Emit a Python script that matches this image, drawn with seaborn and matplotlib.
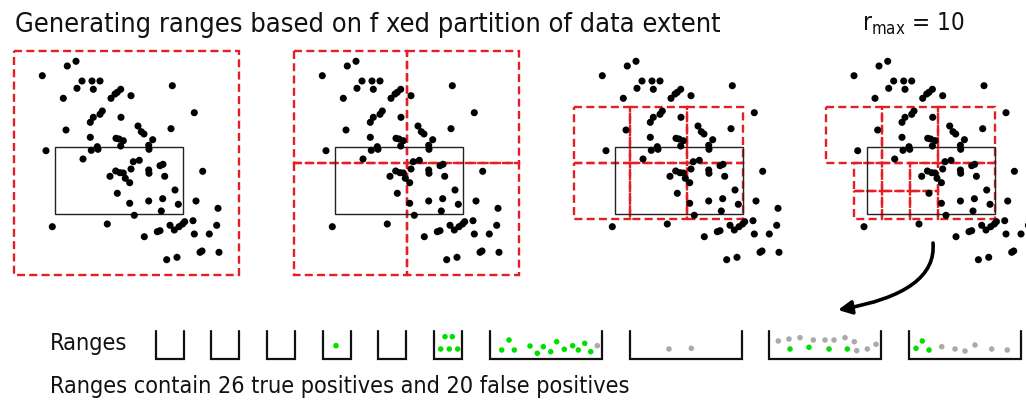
import numpy as np
import pandas as pd
import matplotlib
matplotlib.use("Agg")
import matplotlib.pyplot as plt
import seaborn as sns
from matplotlib.patches import Rectangle, FancyArrowPatch

# ---------------- data ----------------
# scattered data points (pixel-frame of the first panel, y downward)
pt_x = [42.3, 67.3, 76.0, 82.0, 92.0, 100.0, 77.0, 93.3, 63.3, 111.0, 115.0, 117.3,
        120.7, 131.0, 172.3, 194.3, 100.0, 102.3, 93.3, 90.3, 121.0, 66.0, 138.0,
        141.3, 144.0, 171.0, 90.3, 116.0, 119.0, 123.3, 120.7, 152.7, 148.7, 149.0,
        46.0, 91.3, 97.3, 98.0, 83.0, 133.3, 139.3, 160.0, 163.0, 131.0, 115.7,
        110.0, 120.0, 123.3, 125.3, 129.7, 148.7, 149.0, 164.7, 202.7, 175.0, 117.3,
        129.7, 148.7, 162.7, 178.3, 196.0, 161.3, 134.3, 218.0, 52.3, 107.3, 170.0,
        174.3, 179.0, 182.7, 184.7, 193.0, 157.3, 160.0, 144.3, 194.3, 209.3, 216.7,
        200.0, 202.0, 219.0, 166.7, 177.0]
pt_y = [75.7, 66.0, 61.3, 81.0, 81.0, 81.0, 88.3, 89.3, 98.3, 98.3, 94.0, 92.3,
        89.3, 95.7, 85.7, 112.7, 114.3, 111.0, 117.3, 122.3, 117.3, 130.0, 126.0,
        131.7, 134.0, 128.7, 137.3, 138.3, 139.0, 140.7, 146.0, 139.7, 145.3, 149.3,
        150.7, 150.3, 146.7, 149.3, 159.0, 161.7, 160.3, 165.7, 164.3, 169.0, 171.0,
        176.3, 172.7, 173.0, 178.3, 182.7, 170.0, 173.3, 176.3, 171.3, 190.0, 193.3,
        203.3, 201.0, 198.7, 204.3, 201.0, 211.0, 215.3, 208.3, 226.7, 224.0, 225.3,
        230.0, 226.7, 224.0, 221.7, 220.7, 231.7, 230.7, 236.7, 234.0, 234.0, 225.3,
        252.3, 251.0, 252.3, 259.7, 257.3]

extent_x = [14.0, 239.3]
extent_y = [50.7, 275.3]
query_x = [55.0, 183.3]
query_y = [147.3, 214.0]

# partition cells per panel, as fractions of the data extent (x0, x1, y0, y1)
cells_p1 = [(0, 1, 0, 1)]
cells_p2 = [(0, .5, 0, .5), (.5, 1, 0, .5), (0, .5, .5, 1), (.5, 1, .5, 1)]
cells_p3 = [(0, .25, .25, .5), (.25, .5, .25, .5), (.5, .75, .25, .5),
            (0, .25, .5, .75), (.25, .5, .5, .75), (.5, .75, .5, .75)]
cells_p4 = [(0, .25, .25, .5), (.25, .5, .25, .5), (.5, .75, .25, .5),
            (.125, .25, .5, .625), (.125, .25, .625, .75),
            (.25, .375, .5, .625), (.375, .5, .5, .625),
            (.25, .375, .625, .75), (.375, .5, .625, .75),
            (.5, .75, .5, .75)]

# ranges (buckets): relative size (area units) and their contents
range_units = [1, 1, 1, 1, 1, 1, 4, 4, 4, 4]
range_tp = [0, 0, 0, 1, 0, 5, 13, 0, 4, 3]
range_fp = [0, 0, 0, 0, 0, 0, 1, 2, 11, 6]
dot_x = [336.0,
         445.0, 452.3, 440.7, 449.3, 457.7,
         501.7, 509.0, 514.3, 530.0, 537.3, 543.3, 550.7, 556.7, 564.3, 572.7, 578.3, 584.7, 590.7, 597.3,
         669.0, 691.3,
         778.3, 789.0, 800.0, 813.3, 825.0, 834.0, 845.0, 854.3, 856.7, 867.3, 876.0,
         790.0, 809.0, 829.0, 847.3,
         922.3, 916.0, 929.0, 941.7, 955.0, 965.0, 975.0, 991.7, 1007.3]
dot_y = [345.7,
         336.7, 336.7, 349.0, 349.0, 349.0,
         350.0, 340.0, 350.0, 346.0, 353.3, 346.7, 351.7, 341.7, 349.3, 345.7, 350.0, 343.3, 351.7, 345.7,
         349.0, 348.3,
         341.0, 339.0, 337.7, 340.0, 340.0, 340.0, 337.7, 341.7, 350.7, 349.0, 344.3,
         349.0, 347.3, 349.0, 349.0,
         341.0, 348.3, 350.0, 346.7, 349.0, 351.0, 345.0, 349.0, 350.0]
dot_kind = (["TP"] * 1 + ["TP"] * 5 + ["TP"] * 13 + ["FP"] * 1 + ["FP"] * 2
            + ["FP"] * 11 + ["TP"] * 4 + ["TP"] * 3 + ["FP"] * 6)

title = "Generating ranges based on f xed partition of data extent"
footer = "Ranges contain 26 true positives and 20 false positives"

# ---------------- style ----------------
sns.set_theme(style="white")
plt.rcParams["font.family"] = ["DejaVu Sans"]
plt.rcParams["font.stretch"] = "condensed"
plt.rcParams["mathtext.fontset"] = "dejavusans"

RED = "#e31e24"
DASH = (0, (3.4, 1.8))

fig = plt.figure(figsize=(10.26, 4.03), dpi=100)
ax = fig.add_axes([0, 0, 1, 1])
ax.set_xlim(0, 1026)
ax.set_ylim(403, 0)
ax.axis("off")

panel_offsets = [0, 280, 560, 811.7]
panel_cells = [cells_p1, cells_p2, cells_p3, cells_p4]
ex0, ex1 = extent_x
ey0, ey1 = extent_y
W, H = ex1 - ex0, ey1 - ey0

frames = []
for off, cells in zip(panel_offsets, panel_cells):
    for (fx0, fx1, fy0, fy1) in cells:
        ax.add_patch(Rectangle((off + ex0 + fx0 * W, ey0 + fy0 * H), (fx1 - fx0) * W,
                               (fy1 - fy0) * H, fill=False, edgecolor=RED, lw=1.7,
                               linestyle=DASH, zorder=2))
    ax.add_patch(Rectangle((off + query_x[0], query_y[0]), query_x[1] - query_x[0],
                           query_y[1] - query_y[0], fill=False, edgecolor="#222222",
                           lw=1.0, zorder=2.5))
    frames.append(pd.DataFrame({"x": np.array(pt_x) + off, "y": pt_y}))
pts = pd.concat(frames, ignore_index=True)
sns.scatterplot(data=pts, x="x", y="y", color="black", s=26, edgecolor="none",
                ax=ax, legend=False, zorder=3)

# buckets
x = 155.7
unit_w, gap, btop, bbot = 28.0, 27.7, 331.0, 359.0
for u in range_units:
    w = unit_w * u
    ax.plot([x, x, x + w, x + w], [btop, bbot, bbot, btop], color="#111111",
            lw=1.6, solid_joinstyle="miter", zorder=2)
    x += w + gap

dots = pd.DataFrame({"x": dot_x, "y": dot_y, "kind": dot_kind})
sns.scatterplot(data=dots, x="x", y="y", hue="kind",
                palette={"TP": "#00e000", "FP": "#aaaaaa"}, s=16, edgecolor="none",
                ax=ax, legend=False, zorder=3)
ax.set_xlim(0, 1026)
ax.set_ylim(403, 0)
ax.set_xlabel("")
ax.set_ylabel("")

# arrow
arr = FancyArrowPatch((933, 243), (838, 310), connectionstyle="angle3,angleA=95,angleB=10",
                      arrowstyle="-|>", mutation_scale=20, lw=2.6, color="black",
                      shrinkA=0, shrinkB=0, zorder=4)
ax.add_patch(arr)

# texts
kw = dict(va="baseline", ha="left", color="#111111", family="DejaVu Sans", fontstretch="condensed")
t_title = ax.text(15, 32, title, fontsize=20, **kw)
t_rmax = ax.text(862, 31, r"r$_{\mathregular{max}}$ = 10", fontsize=18, **kw)
t_rng = ax.text(50, 350, "Ranges", fontsize=15, **kw)
t_foot = ax.text(50, 393, footer, fontsize=15, **kw)

renderer = fig.canvas.get_renderer()
for t, target in [(t_title, 703), (t_rmax, 103), (t_rng, 78), (t_foot, 583)]:
    w = t.get_window_extent(renderer).width
    t.set_fontsize(t.get_fontsize() * target / w)

fig.savefig("out.png", dpi=100)
